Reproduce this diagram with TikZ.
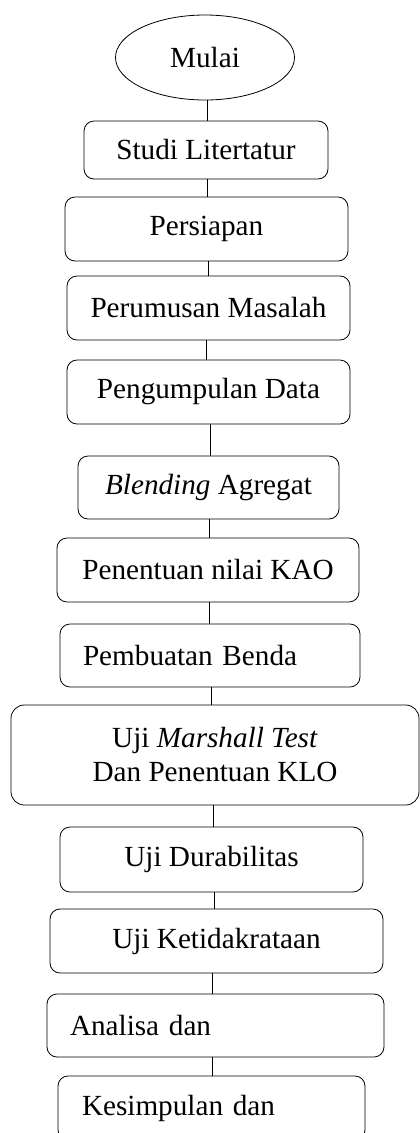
\documentclass[tikz,border=0pt]{standalone}
\usepackage{fontspec}
\setmainfont{Liberation Serif}
\usetikzlibrary{shapes,positioning}

\begin{document}
\begin{tikzpicture}[
        x=0.75pt, y=-0.75pt,
        every node/.style={font=\fontsize{21.9}{25.5}\selectfont},
        box/.style={draw, rectangle, rounded corners=7.5pt, minimum height=48pt, align=center, line width=0.6pt},
        leftbox/.style={box, align=left, inner xsep=17.25pt},
        oval/.style={draw, ellipse, line width=0.6pt},
        link/.style={line width=0.6pt}
    ]
        \useasboundingbox (0,0) rectangle (419,1133);

        % Main flow nodes
        \node[oval, minimum width=134.25pt, minimum height=63.75pt] (start) at (205,57.5) {Mulai};
        \node[box, minimum width=183pt, minimum height=43.5pt] (studi) at (206,150) {Studi Litertatur};
        \node[box, minimum width=212.25pt] (persiapan) at (206.5,229) {Persiapan};
        \node[box, minimum width=212.25pt] (rumusan) at (208.5,308) {Perumusan Masalah};
        \node[box, minimum width=212.25pt] (data) at (208.5,392) {Pengumpulan Data};
        \node[box, minimum width=195.75pt, minimum height=47.25pt] (blending) at (208.5,487.5) {\textit{Blending} Agregat};
        \node[box, minimum width=226.5pt] (kao) at (208,570) {Penentuan nilai KAO};
        \node[leftbox, text width=190.5pt, minimum height=47.25pt] (benda) at (210,655.5) {Pembuatan Benda};
        \node[box, rounded corners=10pt, minimum width=306pt, minimum height=75pt] (marshall) at (215,755) {Uji \textit{Marshall Test}\\Dan Penentuan KLO};
        \node[box, minimum width=227.25pt, minimum height=48.75pt] (durabilitas) at (211.5,859.5) {Uji Durabilitas};
        \node[box, minimum width=249.75pt] (kerataan) at (216.5,941) {Uji Ketidakrataan};
        \node[leftbox, text width=218.25pt, minimum height=47.25pt] (analisa) at (215.5,1025.5) {Analisa dan};
        \node[leftbox, inner xsep=18pt, text width=194.25pt] (simpulan) at (211.5,1108) {Kesimpulan dan};

        % Connectors
        \draw[link] (207,0 |- start.south) -- (207,0 |- studi.north);
        \draw[link] (207,0 |- studi.south) -- (207,0 |- persiapan.north);
        \draw[link] (208,0 |- persiapan.south) -- (208,0 |- rumusan.north);
        \draw[link] (206,0 |- rumusan.south) -- (206,0 |- data.north);
        \draw[link] (210,0 |- data.south) -- (210,0 |- blending.north);
        \draw[link] (209,0 |- blending.south) -- (209,0 |- kao.north);
        \draw[link] (209,0 |- kao.south) -- (209,0 |- benda.north);
        \draw[link] (211,0 |- benda.south) -- (211,0 |- marshall.north);
        \draw[link] (213,0 |- marshall.south) -- (213,0 |- durabilitas.north);
        \draw[link] (214,0 |- durabilitas.south) -- (214,0 |- kerataan.north);
        \draw[link] (212,0 |- kerataan.south) -- (212,0 |- analisa.north);
        \draw[link] (212,0 |- analisa.south) -- (212,0 |- simpulan.north);
    \end{tikzpicture}
\end{document}
